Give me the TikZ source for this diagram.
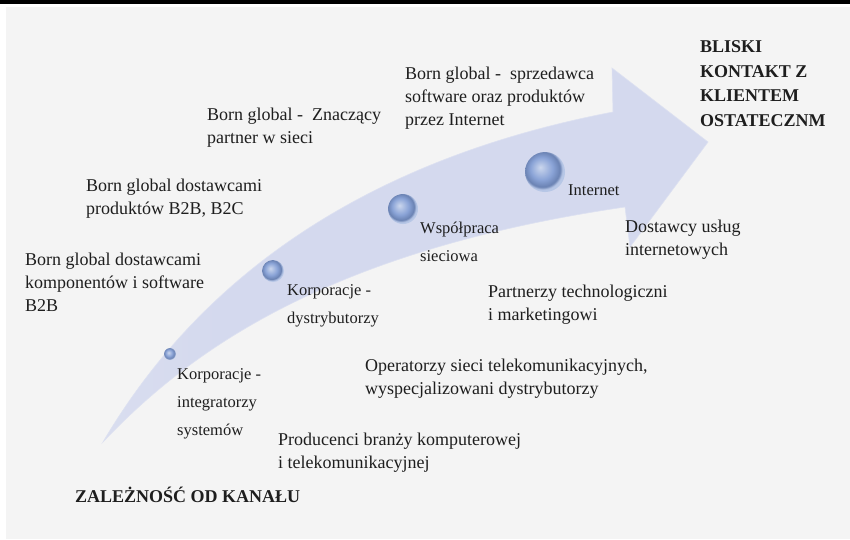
\documentclass[tikz,border=0pt]{standalone}
\usepackage{fontspec}
\setmainfont{Liberation Serif}
\definecolor{panelgray}{RGB}{244,244,244}
\definecolor{arrowfill}{RGB}{212,217,238}
\definecolor{bubbleblue}{RGB}{125,153,210}
\definecolor{txt}{RGB}{30,30,30}
\pgfdeclareradialshading{bubbleshade}{\pgfpoint{-6bp}{6bp}}{%
    color(0bp)=(bubbleblue!40!white);
    color(14bp)=(bubbleblue!90!white);
    color(22bp)=(bubbleblue!85!black);
    color(25bp)=(bubbleblue!55!white);
    color(50bp)=(bubbleblue!55!white)}
\pgfdeclarehorizontalshading{arrowshade}{100bp}{%
    color(0bp)=(arrowfill!45!panelgray);
    color(35bp)=(arrowfill);
    color(100bp)=(arrowfill)}
\begin{document}
\begin{tikzpicture}[
        x=1pt, y=-1pt,
        lbl/.style={anchor=base west, align=left, inner sep=0pt, text=txt,
            font=\fontsize{18}{23}\selectfont},
        sml/.style={lbl, font=\fontsize{16.5}{28}\selectfont},
        bigcaps/.style={lbl, font=\fontsize{18}{24.5}\selectfont\bfseries},
        bubble/.style={circle, inner sep=0pt, shading=bubbleshade}
    ]
    \useasboundingbox (0,0) rectangle (850,539);
    \fill[white] (0,0) rectangle (850,539);
    \fill[black] (0,0) rectangle (850,4);
    \fill[panelgray] (6,7) rectangle (850,539);
    % curved arrow
    \shadedraw[
        shading = arrowshade,
        draw = arrowfill!80!white,
        line width = 0.6pt
    ]
    (103,442) .. controls (172,325) and (310,170) .. (613,112)
    -- (612,68) -- (708,142) -- (630,247) -- (625,207)
    .. controls (330,250) and (190,350) .. (103,442) -- cycle;
    % bubbles
    \node[bubble, minimum size=12] (b1) at (170,354) {};
    \node[bubble, minimum size=22] (b2) at (273,271) {};
    \node[bubble, minimum size=30] (b3) at (403,209) {};
    \node[bubble, minimum size=40] (b4) at (545,172) {};
    % labels above the arrow (anchor = baseline of last line)
    \node[lbl] (bgkomp) at (25,311) {Born global dostawcami\\komponentów i software\\B2B};
    \node[lbl] (bgprod) at (86,214) {Born global dostawcami\\produktów B2B, B2C};
    \node[lbl] (bgpart) at (207,143) {Born global -~ Znaczący\\partner w sieci};
    \node[lbl] (bgsoft) at (405,125) {Born global -~ sprzedawca\\software oraz produktów\\przez Internet};
    \node[bigcaps] (bliski) at (700,126) {BLISKI\\KONTAKT Z\\KLIENTEM\\OSTATECZNM};
    % labels at the bubbles
    \node[sml] (integr) at (177,435) {Korporacje -\\integratorzy\\systemów};
    \node[sml] (dystr) at (287,323) {Korporacje -\\dystrybutorzy};
    \node[sml] (wspol) at (420,261) {Współpraca\\sieciowa};
    \node[sml] (inet) at (568,195) {Internet};
    % labels below the arrow
    \node[lbl] (dostaw) at (625,255) {Dostawcy usług\\internetowych};
    \node[lbl] (partn) at (488,320) {Partnerzy technologiczni\\i marketingowi};
    \node[lbl] (operat) at (365,394) {Operatorzy sieci telekomunikacyjnych,\\wyspecjalizowani dystrybutorzy};
    \node[lbl] (produc) at (278,468) {Producenci branży komputerowej\\i telekomunikacyjnej};
    \node[lbl, font=\fontsize{18}{23}\selectfont\bfseries] (zalez) at (75,502) {ZALEŻNOŚĆ OD KANAŁU};
\end{tikzpicture}
\end{document}
